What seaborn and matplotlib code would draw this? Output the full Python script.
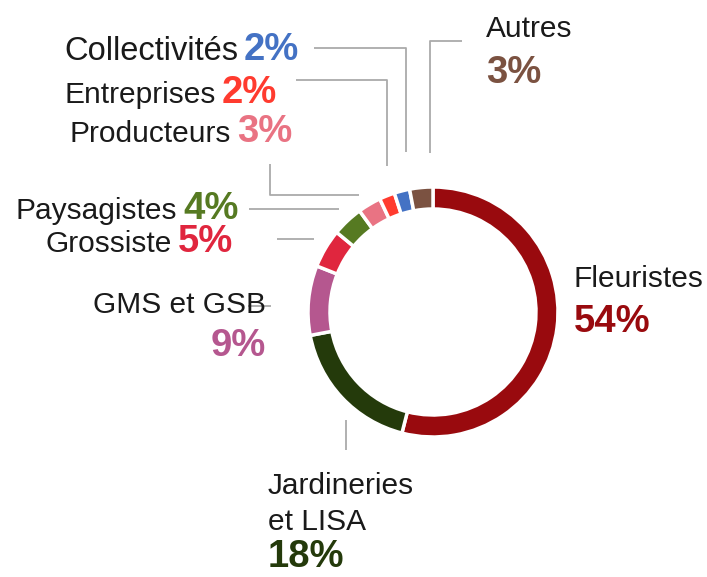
import matplotlib
matplotlib.use("Agg")
import matplotlib.pyplot as plt
import seaborn as sns

sns.set_theme(style="white")
plt.rcParams['font.family'] = ['Liberation Sans', 'DejaVu Sans']

# Data (clockwise from top)
categories = ["Fleuristes", "Jardineries\net LISA", "GMS et GSB", "Grossiste",
              "Paysagistes", "Producteurs", "Entreprises", "Collectivités", "Autres"]
values = [54, 18, 9, 5, 4, 3, 2, 2, 3]
colors = ["#990a0e", "#243a0b", "#b5578f", "#e0263e", "#567a22",
          "#e97383", "#ff3b2f", "#4472c4", "#7b5241"]

W, H = 707, 577
fig = plt.figure(figsize=(W / 100, H / 100), dpi=100)
ax = fig.add_axes([0, 0, 1, 1])

def Y(y):
    return H - y

cx, cy, R = 433, 312, 125
ax.pie(values, colors=colors, startangle=90, counterclock=False,
       center=(cx, Y(cy)), radius=R, frame=True,
       wedgeprops=dict(width=22, edgecolor='white', linewidth=2.5))
ax.set_xlim(0, W)
ax.set_ylim(0, H)
ax.set_aspect('equal')
ax.axis('off')

LFS = 21.5
PFS = 27.5
lc = '#aaaaaa'
lw = 1.3
txtc = '#1a1a1a'

def inline(label, pct, color, px, base, lfs=LFS):
    ax.text(px - 6, Y(base), label, ha='right', va='baseline', fontsize=lfs, color=txtc)
    ax.text(px, Y(base), pct, ha='left', va='baseline', fontsize=PFS,
            fontweight='bold', color=color)

pct = [f"{v}%" for v in values]

# Inline labels (left top)
inline(categories[7], pct[7], colors[7], 244, 60, lfs=23.5)
inline(categories[6], pct[6], colors[6], 222, 103)
inline(categories[5], pct[5], colors[5], 237, 142)
inline(categories[4], pct[4], colors[4], 183, 219)
inline(categories[3], pct[3], colors[3], 178, 252)

# Stacked labels
ax.text(266, Y(313), categories[2], ha='right', va='baseline', fontsize=LFS, color=txtc)
ax.text(266, Y(356), pct[2], ha='right', va='baseline', fontsize=PFS, fontweight='bold', color=colors[2])

ax.text(574, Y(287), categories[0], ha='left', va='baseline', fontsize=LFS, color=txtc)
ax.text(574, Y(332), pct[0], ha='left', va='baseline', fontsize=PFS, fontweight='bold', color=colors[0])

jl = categories[1].split("\n")
ax.text(268, Y(494), jl[0], ha='left', va='baseline', fontsize=LFS, color=txtc)
ax.text(268, Y(530), jl[1], ha='left', va='baseline', fontsize=LFS, color=txtc)
ax.text(268, Y(567), pct[1], ha='left', va='baseline', fontsize=PFS, fontweight='bold', color=colors[1])

ax.text(486, Y(37), categories[8], ha='left', va='baseline', fontsize=LFS, color=txtc)
ax.text(486, Y(83), pct[8], ha='left', va='baseline', fontsize=PFS, fontweight='bold', color=colors[8])

# Leader lines
def line(xs, ys):
    ax.plot(xs, [Y(v) for v in ys], color=lc, lw=lw, solid_capstyle='butt')

line([314, 406, 406], [47.5, 47.5, 152])      # Collectivités
line([296, 387, 387], [80, 80, 166])          # Entreprises
line([462, 430, 430], [40.5, 40.5, 153])      # Autres
line([270, 270, 359], [164, 195, 195])        # Producteurs
line([249, 339], [209, 209])                  # Paysagistes
line([277, 314], [239, 239])                  # Grossiste
line([248, 271], [306, 306])                  # GMS
line([346, 346], [420, 450])                  # Jardineries

fig.savefig("out.png", dpi=100, facecolor='white')
